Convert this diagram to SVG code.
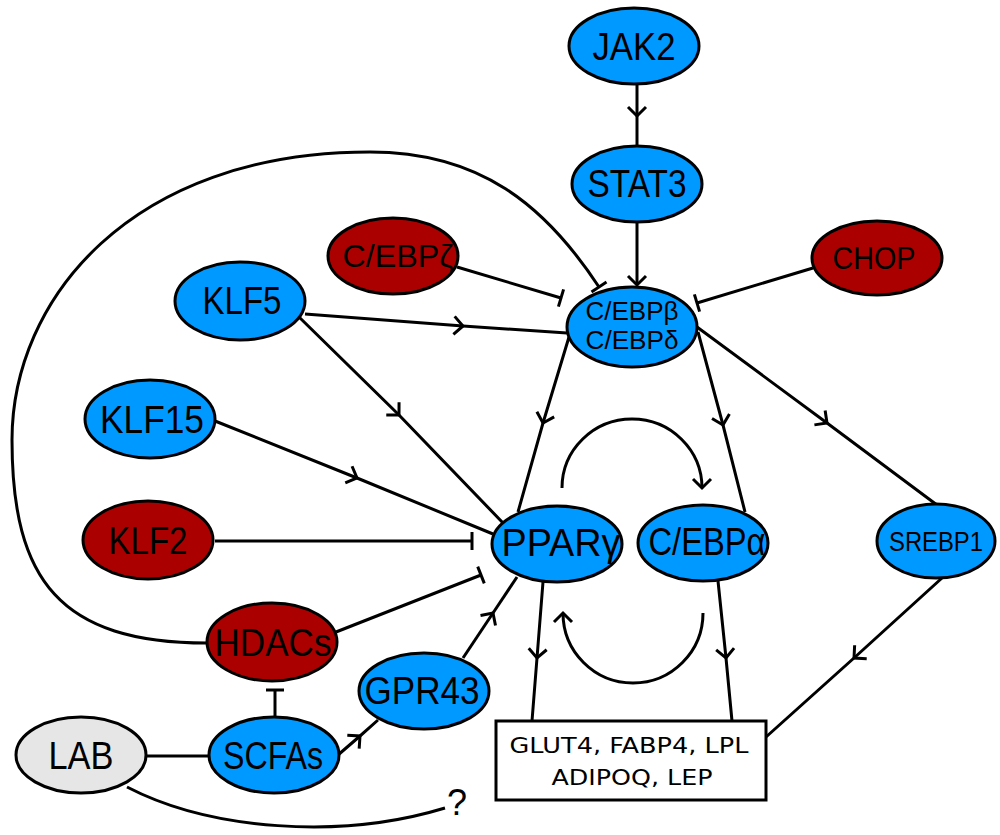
<svg xmlns="http://www.w3.org/2000/svg" width="1000" height="835" viewBox="0 0 1000 835">
<defs>
<style>
.edge{fill:none;stroke:#000;stroke-width:3}
.mid{marker-mid:url(#chev)}
.arr{marker-end:url(#chev)}
.inh{marker-end:url(#bar)}
.blue{fill:#0099ff;stroke:#000;stroke-width:3}
.red{fill:#aa0000;stroke:#000;stroke-width:3}
.grey{fill:#e6e6e6;stroke:#000;stroke-width:3}
.lbl{font-family:"Liberation Sans",Arial,sans-serif;font-size:39px;fill:#000;text-anchor:middle}
.sm{font-size:31px}
.xs{font-size:25px}
.box{font-family:"DejaVu Sans",Verdana,sans-serif;font-size:21px;fill:#000;text-anchor:middle}
</style>
<marker id="chev" markerUnits="userSpaceOnUse" viewBox="-12 -12 24 24" markerWidth="24" markerHeight="24" refX="0" refY="0" orient="auto" overflow="visible">
<path d="M-9,-9 L0,0 L-9,9" fill="none" stroke="#000" stroke-width="3"/>
</marker>
<marker id="bar" markerUnits="userSpaceOnUse" viewBox="-12 -12 24 24" markerWidth="24" markerHeight="24" refX="0" refY="0" orient="auto" overflow="visible">
<path d="M0,-9 L0,9" fill="none" stroke="#000" stroke-width="3"/>
</marker>
</defs>
<rect width="1000" height="835" fill="#fff"/>
<g id="connectors">
<path class="edge mid" d="M637,84 L637,116 L637,146"/>
<path class="edge arr" d="M637,222 L637,285"/>
<path class="edge inh" d="M457,267 L561,298"/>
<path class="edge inh" d="M813,268 L697,303"/>
<path class="edge mid" d="M305,314 L463,326 L567,333"/>
<path class="edge mid" d="M299,317 L399,415 L504,524"/>
<path class="edge mid" d="M215,421 L357,478 L493,534"/>
<path class="edge inh" d="M215,541 L472,541"/>
<path class="edge inh" d="M336,632 L481,575"/>
<path class="edge mid" d="M463,658 L493,613 L517,577"/>
<path class="edge mid" d="M338,755 L360,736 L378,720"/>
<path class="edge inh" d="M275,717 L275,690"/>
<path class="edge" d="M147,756 L209,756"/>
<path class="edge" d="M127,787 C210,830 340,840 445,808"/>
<path class="edge inh" d="M207,643 C60,643 12,580 12,440 C12,300 130,152 370,152 C480,152 545,205 599,287"/>
<path class="edge mid" d="M569,337 L543,423 L518,512"/>
<path class="edge mid" d="M698,332 L723,425 L745,512"/>
<path class="edge mid" d="M697,327 L827,423 L937,505"/>
<path class="edge mid" d="M942,578 L854,658 L766,737"/>
<path class="edge mid" d="M543,582 L537,658 L532,721"/>
<path class="edge mid" d="M718,581 L726,658 L732,721"/>
<path class="edge arr" d="M562,488 A70,69 0 0 1 702,488"/>
<path class="edge arr" d="M703,613 A70,70 0 0 1 563,613"/>
</g>
<g id="JAK2"><ellipse class="blue" cx="634" cy="46" rx="65" ry="38"/><text class="lbl" x="634" y="60" textLength="83" lengthAdjust="spacingAndGlyphs">JAK2</text></g>
<g id="STAT3"><ellipse class="blue" cx="637" cy="184" rx="65" ry="38"/><text class="lbl" x="637" y="197" textLength="99" lengthAdjust="spacingAndGlyphs">STAT3</text></g>
<g id="CEBPbd"><ellipse class="blue" cx="632" cy="327" rx="65" ry="40"/><text class="lbl xs" x="632" y="320" textLength="93" lengthAdjust="spacingAndGlyphs">C/EBPβ</text><text class="lbl xs" x="632" y="349" textLength="93" lengthAdjust="spacingAndGlyphs">C/EBPδ</text></g>
<g id="CEBPz"><ellipse class="red" cx="393" cy="256" rx="65" ry="38"/><text class="lbl sm" x="398" y="267" textLength="111" lengthAdjust="spacingAndGlyphs">C/EBPζ</text></g>
<g id="CHOP"><ellipse class="red" cx="877" cy="258" rx="65" ry="37"/><text class="lbl sm" x="874" y="269" textLength="83" lengthAdjust="spacingAndGlyphs">CHOP</text></g>
<g id="KLF5"><ellipse class="blue" cx="240" cy="301" rx="65" ry="39"/><text class="lbl" x="242" y="314" textLength="79" lengthAdjust="spacingAndGlyphs">KLF5</text></g>
<g id="KLF15"><ellipse class="blue" cx="150" cy="419" rx="65" ry="39"/><text class="lbl" x="152" y="433" textLength="104" lengthAdjust="spacingAndGlyphs">KLF15</text></g>
<g id="KLF2"><ellipse class="red" cx="148" cy="540" rx="65" ry="39"/><text class="lbl" x="148" y="554" textLength="79" lengthAdjust="spacingAndGlyphs">KLF2</text></g>
<g id="PPARg"><ellipse class="blue" cx="557" cy="544" rx="65" ry="38"/><text class="lbl" x="561" y="556" textLength="119" lengthAdjust="spacingAndGlyphs">PPARγ</text></g>
<g id="CEBPa"><ellipse class="blue" cx="703" cy="543" rx="65" ry="38"/><text class="lbl" x="707" y="555" textLength="117" lengthAdjust="spacingAndGlyphs">C/EBPα</text></g>
<g id="SREBP1"><ellipse class="blue" cx="936" cy="541" rx="59" ry="37"/><text class="lbl" x="936" y="551" style="font-size:28px" textLength="94" lengthAdjust="spacingAndGlyphs">SREBP1</text></g>
<g id="HDACs"><ellipse class="red" cx="272" cy="642" rx="65" ry="39"/><text class="lbl" x="273" y="656" textLength="117" lengthAdjust="spacingAndGlyphs">HDACs</text></g>
<g id="GPR43"><ellipse class="blue" cx="424" cy="691" rx="65" ry="38"/><text class="lbl" x="422" y="704" textLength="115" lengthAdjust="spacingAndGlyphs">GPR43</text></g>
<g id="SCFAs"><ellipse class="blue" cx="274" cy="755" rx="65" ry="38"/><text class="lbl" x="273" y="769" textLength="100" lengthAdjust="spacingAndGlyphs">SCFAs</text></g>
<g id="LAB"><ellipse class="grey" cx="81" cy="755" rx="65" ry="38"/><text class="lbl" x="81" y="769" textLength="65" lengthAdjust="spacingAndGlyphs">LAB</text></g>
<g id="q"><text class="lbl" x="457" y="815" style="font-size:36px">?</text></g>
<g id="genes"><rect x="496" y="721" width="270" height="79" fill="#fff" stroke="#000" stroke-width="3"/><text class="box" x="629" y="753" textLength="239" lengthAdjust="spacingAndGlyphs">GLUT4, FABP4, LPL</text><text class="box" x="632" y="785" textLength="161" lengthAdjust="spacingAndGlyphs">ADIPOQ, LEP</text></g>
</svg>
